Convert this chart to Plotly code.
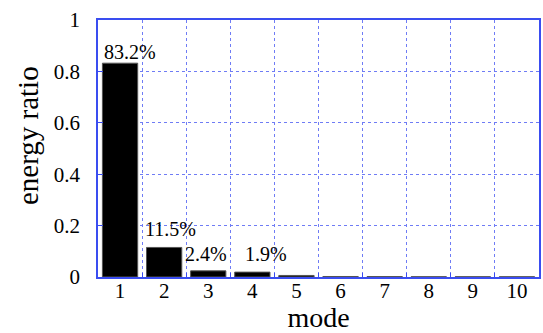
import plotly.graph_objects as go

modes = [1, 2, 3, 4, 5, 6, 7, 8, 9, 10]
energy_ratio = [0.832, 0.115, 0.024, 0.019, 0.006, 0.002, 0.0015, 0.001, 0.001, 0.0008]
labels = ["83.2%", "11.5%", "2.4%", "1.9%", "", "", "", "", "", ""]

# label nudges (pixels), styling only
label_xshift = [10, 6, -2, 14, 0, 0, 0, 0, 0, 0]
label_yshift = [-2, 5, 4, 5, 0, 0, 0, 0, 0, 0]

BLUE = "#3a4df0"
GRIDBLUE = "#6f7cf5"
FONT = "Liberation Serif"

fig = go.Figure()
fig.add_trace(go.Bar(
    x=modes, y=energy_ratio, width=0.8,
    marker=dict(color="black", line=dict(color="#555555", width=1)),
    showlegend=False,
))

for m, v, t, dx, dy in zip(modes, energy_ratio, labels, label_xshift, label_yshift):
    if t:
        fig.add_annotation(x=m, y=v, text=t, showarrow=False, yanchor="bottom",
                           xanchor="center", xshift=dx, yshift=dy,
                           font=dict(family=FONT, size=20, color="black"))

# y-axis title as a rotated annotation (sits a bit above the plot's centre)
fig.add_annotation(xref="paper", yref="paper", x=-0.16, y=0.55, text="energy ratio",
                   textangle=-90, showarrow=False, xanchor="center", yanchor="middle",
                   font=dict(family=FONT, size=29, color="black"))

fig.update_layout(
    width=543, height=333,
    margin=dict(l=98, r=2, t=20, b=56),
    paper_bgcolor="white", plot_bgcolor="white",
    font=dict(family=FONT, color="black"),
    bargap=0.2,
)
fig.update_xaxes(
    range=[0.5, 10.5], tickvals=modes, ticktext=[str(m) for m in modes],
    showgrid=False, zeroline=False,
    showline=True, linecolor=BLUE, linewidth=1.5, mirror=True,
    ticks="", ticklabelstandoff=-6,
    tickfont=dict(family=FONT, size=21, color="black"),
    minor=dict(tickvals=[m + 0.5 for m in modes[:-1]], showgrid=True,
               gridcolor=GRIDBLUE, griddash="dot", gridwidth=1.2,
               ticks="inside", ticklen=4, tickcolor=BLUE),
    title=dict(text="mode", font=dict(family=FONT, size=28, color="black"), standoff=4),
)
fig.update_yaxes(
    range=[0, 1], tickvals=[0, 0.2, 0.4, 0.6, 0.8, 1],
    ticktext=["0", "0.2", "0.4", "0.6", "0.8", "1"],
    showgrid=True, gridcolor=GRIDBLUE, griddash="dot", gridwidth=1.2,
    zeroline=False,
    showline=True, linecolor=BLUE, linewidth=1.5, mirror=True,
    ticks="inside", ticklen=5, tickcolor=BLUE, ticklabelstandoff=12,
    tickfont=dict(family=FONT, size=21, color="black"),
)

fig.write_html("out.html", config={"displayModeBar": False},
               post_script="document.body.style.margin='0';")
